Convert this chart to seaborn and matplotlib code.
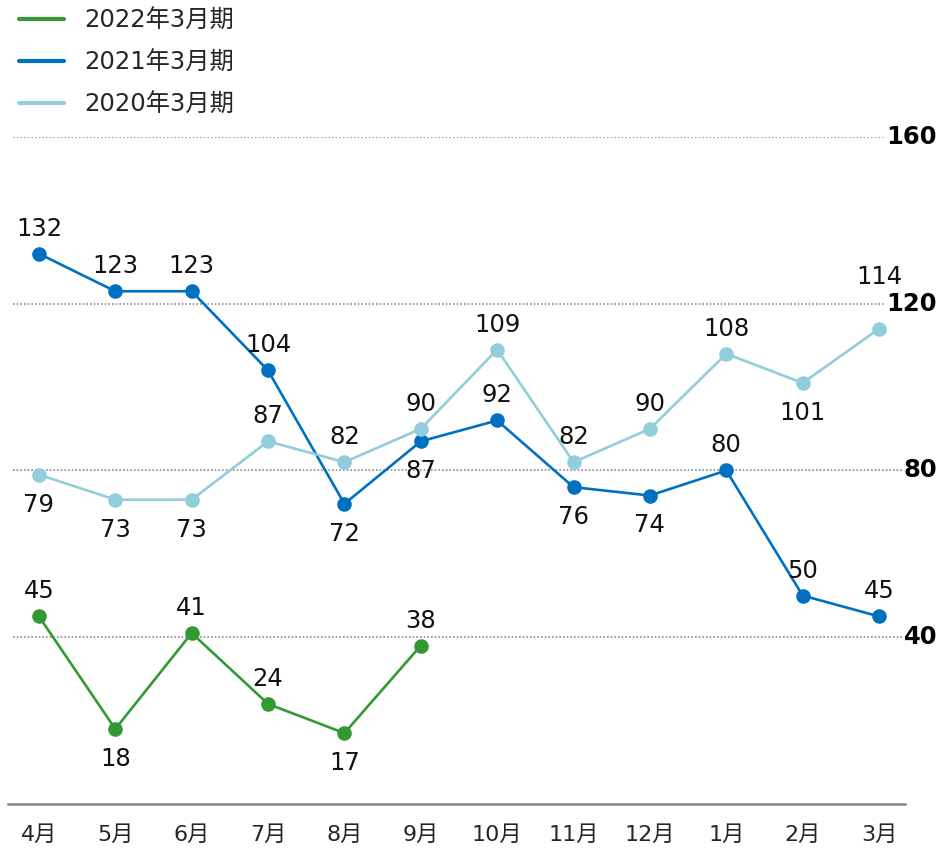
import pandas as pd
import matplotlib.pyplot as plt
import matplotlib.transforms as mtransforms
import seaborn as sns

months = ["4月", "5月", "6月", "7月", "8月", "9月", "10月", "11月", "12月", "1月", "2月", "3月"]
series_names = ["2022年3月期", "2021年3月期", "2020年3月期"]
fy2022 = [45, 18, 41, 24, 17, 38]
fy2021 = [132, 123, 123, 104, 72, 87, 92, 76, 74, 80, 50, 45]
fy2020 = [79, 73, 73, 87, 82, 90, 109, 82, 90, 108, 101, 114]
grid_values = [40, 80, 120, 160]

# label side per point: 1 = above, -1 = below, 2 = higher above
side_2022 = [1, -1, 1, 1, -1, 1]
side_2021 = [1, 1, 1, 1, -1, -1, 1, -1, -1, 1, 1, 1]
side_2020 = [-1, -1, -1, 1, 1, 1, 1, 1, 1, 1, -1, 2]

colors = {"2022年3月期": "#339933", "2021年3月期": "#0070c0", "2020年3月期": "#92cddc"}

sns.set_style("white")
plt.rcParams["font.family"] = ["DejaVu Sans", "Noto Sans CJK JP"]

rows = []
for name, vals in zip(series_names, [fy2022, fy2021, fy2020]):
    for i, v in enumerate(vals):
        rows.append({"month": i, "value": v, "series": name})
df = pd.DataFrame(rows)

fig = plt.figure(figsize=(9.41, 8.49), dpi=100)
ax = fig.add_axes([8 / 941, 45 / 849, 897 / 941, 667 / 849])

sns.lineplot(data=df, x="month", y="value", hue="series", hue_order=series_names,
             palette=colors, marker="o", markersize=10.5, markeredgewidth=0,
             linewidth=1.9, ax=ax, zorder=3)

ax.set_xlim(-0.405, 11.34)
ax.set_ylim(0, 160)

for g in grid_values:
    ax.hlines(g, -0.34, 11.34, colors="#8c8c8c", linestyles=(0, (1, 1.2)), linewidth=1.2, zorder=1)

trans = mtransforms.blended_transform_factory(fig.transFigure, ax.transData)
for g in grid_values:
    ax.text(937 / 941, g, str(g), transform=trans, ha="right", va="center",
            fontsize=17.5, fontweight="bold", color="black",
            bbox=dict(facecolor="white", edgecolor="none", pad=1), clip_on=False, zorder=4)

offsets = {1: 18, -1: -21.5, 2: 37}
for vals, sides in [(fy2022, side_2022), (fy2021, side_2021), (fy2020, side_2020)]:
    for i, (v, s) in enumerate(zip(vals, sides)):
        ax.annotate(str(v), (i, v), xytext=(0, offsets[s]),
                    textcoords="offset points", ha="center", va="center",
                    fontsize=17.5, color="#111111", clip_on=False, zorder=5)

ax.set_xticks(range(len(months)))
ax.set_xticklabels(months, fontsize=16)
ax.set_yticks([])
ax.set_xlabel("")
ax.set_ylabel("")
ax.tick_params(axis="x", length=0, pad=15)
for sp in ["top", "left", "right"]:
    ax.spines[sp].set_visible(False)
ax.spines["bottom"].set_color("#888888")
ax.spines["bottom"].set_linewidth(1.8)

ax.get_legend().remove()
handles = [plt.Line2D([], [], color=colors[n], linewidth=3) for n in series_names]
fig.legend(handles, series_names, loc="upper left", bbox_to_anchor=(14 / 941, 1 - 4 / 849),
           frameon=False, fontsize=17.5, handlelength=1.85, handletextpad=0.82,
           labelspacing=0.74, borderaxespad=0, borderpad=0.2)

fig.savefig("out.png", dpi=100)
plt.close(fig)
